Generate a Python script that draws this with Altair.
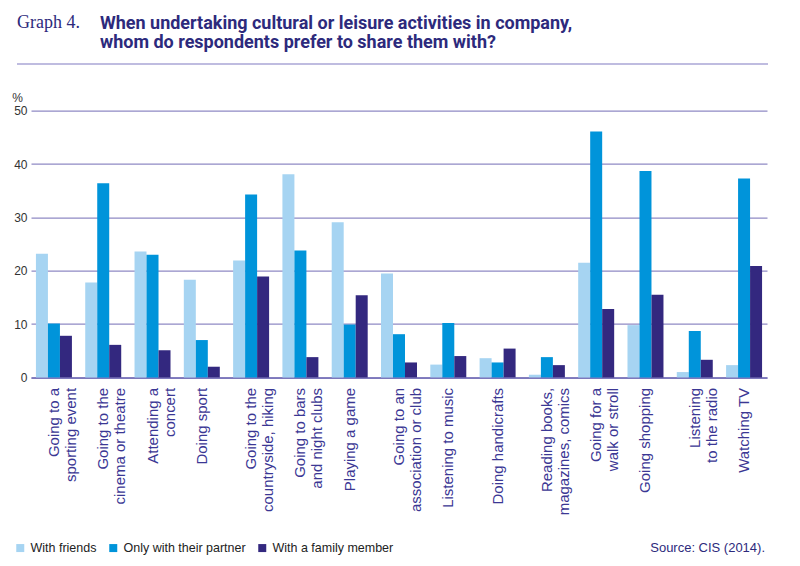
import altair as alt
import pandas as pd

categories = [
    "Going to a|sporting event",
    "Going to the|cinema or theatre",
    "Attending a|concert",
    "Doing sport",
    "Going to the|countryside, hiking",
    "Going to bars|and night clubs",
    "Playing a game",
    "Going to an|association or club",
    "Listening to music",
    "Doing handicrafts",
    "Reading books,|magazines, comics",
    "Going for a|walk or stroll",
    "Going shopping",
    "Listening|to the radio",
    "Watching TV",
]
series = ["With friends", "Only with their partner", "With a family member"]
friends = [23.2, 17.8, 23.6, 18.3, 21.9, 38.1, 29.1, 19.5, 2.4, 3.6, 0.5, 21.5, 9.8, 1.0, 2.3]
partner = [10.1, 36.4, 23.0, 7.0, 34.3, 23.8, 9.9, 8.1, 10.2, 2.8, 3.8, 46.1, 38.7, 8.7, 37.3]
family = [7.8, 6.1, 5.1, 2.0, 18.9, 3.8, 15.4, 2.8, 4.0, 5.4, 2.3, 12.8, 15.5, 3.3, 20.9]
colors = ["#a6d4f2", "#0094da", "#33287f"]
y_ticks = [0, 10, 20, 30, 40, 50]

graph_label = "Graph 4."
title_line1 = "When undertaking cultural or leisure activities in company,"
title_line2 = "whom do respondents prefer to share them with?"
source_text = "Source: CIS (2014)."

NAVY = "#2d2a7c"
LAV = "#aaa6d6"

rows = []
for i, c in enumerate(categories):
    for s, vals in zip(series, [friends, partner, family]):
        rows.append({"category": c, "series": s, "value": vals[i]})
df = pd.DataFrame(rows)

bars = alt.Chart(df).mark_bar().encode(
    x=alt.X("category:N", sort=categories,
            scale=alt.Scale(paddingInner=0.27, paddingOuter=0.1),
            axis=alt.Axis(title=None, labelAngle=-90, labelAlign="right",
                          labelBaseline="middle", labelPadding=10,
                          labelFontSize=15, labelLineHeight=17,
                          labelFont="Liberation Sans", labelColor="#3b3794",
                          labelExpr="split(datum.label, '|')",
                          labelOverlap=False, labelLimit=300,
                          ticks=False, domainColor="#6e69b4", domainWidth=1.5)),
    xOffset=alt.XOffset("series:N", sort=series),
    y=alt.Y("value:Q", scale=alt.Scale(domain=[0, 50], nice=False),
            axis=alt.Axis(values=y_ticks, grid=True, gridColor="#8f8ac4",
                          gridWidth=1.2, domain=False, ticks=False,
                          labelPadding=4, labelFontSize=12,
                          labelFont="Liberation Sans", labelColor="#333333",
                          title="%", titleAngle=0, titleX=-14, titleY=-13,
                          titleAlign="center", titleBaseline="middle",
                          titleFontSize=12, titleFontWeight="normal",
                          titleFont="Liberation Sans", titleColor="#333333")),
    color=alt.Color("series:N", sort=series,
                    scale=alt.Scale(domain=series, range=colors),
                    legend=alt.Legend(title=None, orient="none", legendX=-17,
                                      legendY=431, direction="horizontal",
                                      symbolType="square", symbolSize=64,
                                      symbolStrokeWidth=0, labelFontSize=12.5,
                                      labelFont="Liberation Sans",
                                      labelColor="#222222", labelOffset=4,
                                      columnPadding=10, padding=0)),
)

def text_layer(txt, x, y, size, font, weight="normal", align="left",
               color=NAVY, baseline="alphabetic"):
    return alt.Chart(pd.DataFrame({"t": [txt]})).mark_text(
        align=align, baseline=baseline, fontSize=size, font=font,
        fontWeight=weight, color=color).encode(
        x=alt.value(x), y=alt.value(y), text="t")

graph_t = text_layer(graph_label, -14, -82.7, 18, "Liberation Serif")
title_t1 = text_layer(title_line1, 69, -81.7, 18, "Roboto", weight="bold")
title_t2 = text_layer(title_line2, 69, -62.4, 18, "Roboto", weight="bold")
source_t = text_layer(source_text, 734, 437, 13, "Liberation Sans",
                      align="right", baseline="middle")

rule_mid = alt.Chart(pd.DataFrame({"a": [0]})).mark_rule(
    color=LAV, strokeWidth=1.5).encode(
    x=alt.value(-14), x2=alt.value(737), y=alt.value(-46.7))
rule_bot = alt.Chart(pd.DataFrame({"a": [0]})).mark_rule(
    color=LAV, strokeWidth=1.5).encode(
    x=alt.value(-14), x2=alt.value(737), y=alt.value(449.3))

chart = alt.layer(bars, graph_t, title_t1, title_t2, source_t, rule_mid,
                  rule_bot).properties(
    width=736, height=266.7,
    autosize=alt.AutoSizeParams(type="none"),
    padding={"left": 23, "top": 102.7, "right": 25, "bottom": 178},
).configure_view(stroke=None)

chart.save("out.html", embed_options={"renderer": "svg", "actions": False})
